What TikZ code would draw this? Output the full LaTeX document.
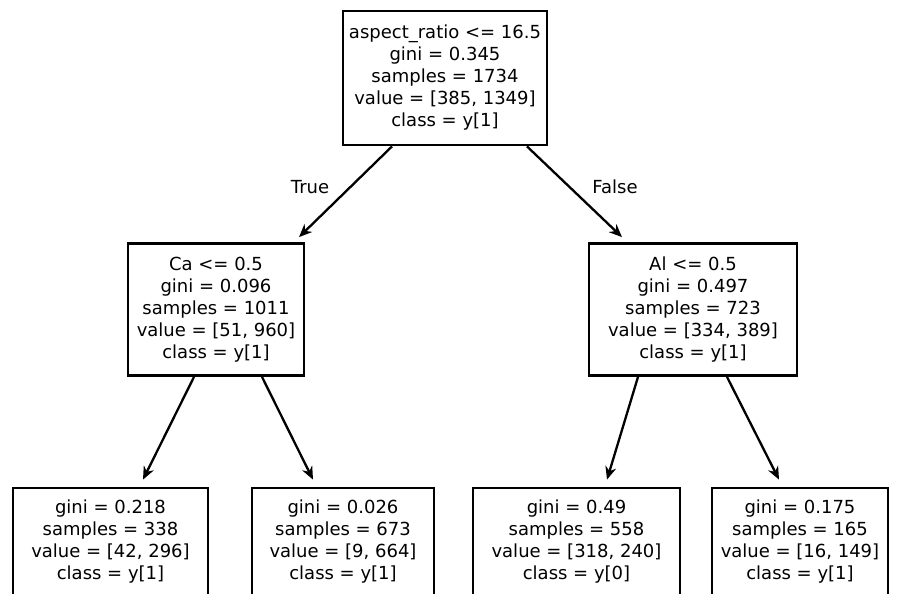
\documentclass[tikz,border=0pt]{standalone}
\usepackage{fontspec}
\setmainfont{DejaVu Sans}
\usepackage{tikz}
\usetikzlibrary{arrows.meta}

\begin{document}
\begin{tikzpicture}[
  x=1pt, y=1pt,
  split/.style={draw, line width=2.8pt, align=center, inner sep=2pt, font=\fontsize{18}{22}\selectfont, minimum height=132pt},
  leaf/.style={draw, line width=2.8pt, align=center, inner sep=2pt, font=\fontsize{18}{22}\selectfont, minimum height=108pt},
  edgelbl/.style={font=\fontsize{18}{22}\selectfont},
  arrow/.style={-{Stealth[length=13pt,width=11pt]}, line width=2.3pt}
]
\clip (0,0) rectangle (897,-594);
\fill[white] (0,0) rectangle (897,-594);

\node[split, minimum width=204pt, minimum height=134pt] (root) at (445,-78) {aspect\_ratio <= 16.5\\gini = 0.345\\samples = 1734\\value = [385, 1349]\\class = y[1]};
\node[split, minimum width=176pt] (ca) at (216,-309.5) {Ca <= 0.5\\gini = 0.096\\samples = 1011\\value = [51, 960]\\class = y[1]};
\node[split, minimum width=208pt] (al) at (693,-309.5) {Al <= 0.5\\gini = 0.497\\samples = 723\\value = [334, 389]\\class = y[1]};

\node[leaf, minimum width=195pt] (leafa) at (110.5,-542) {gini = 0.218\\samples = 338\\value = [42, 296]\\class = y[1]};
\node[leaf, minimum width=182pt] (leafb) at (343,-542) {gini = 0.026\\samples = 673\\value = [9, 664]\\class = y[1]};
\node[leaf, minimum width=207pt] (leafc) at (576.5,-542) {gini = 0.49\\samples = 558\\value = [318, 240]\\class = y[0]};
\node[leaf, minimum width=176pt] (leafd) at (800,-542) {gini = 0.175\\samples = 165\\value = [16, 149]\\class = y[1]};

\node[edgelbl] (truelbl) at (310,-187) {True};
\node[edgelbl] (falselbl) at (615,-187) {False};

\draw[arrow] ([xshift=-53pt]root.south) -- ([xshift=83pt,yshift=5pt]ca.north);
\draw[arrow] ([xshift=82pt]root.south) -- ([xshift=-71pt,yshift=5pt]al.north);

\draw[arrow] ([xshift=-22pt]ca.south) -- ([xshift=32.5pt,yshift=7pt]leafa.north);
\draw[arrow] ([xshift=46pt]ca.south) -- ([xshift=-30pt,yshift=7pt]leafb.north);
\draw[arrow] ([xshift=-55pt]al.south) -- ([xshift=30.5pt,yshift=7pt]leafc.north);
\draw[arrow] ([xshift=34pt]al.south) -- ([xshift=-21pt,yshift=7pt]leafd.north);

\end{tikzpicture}
\end{document}
